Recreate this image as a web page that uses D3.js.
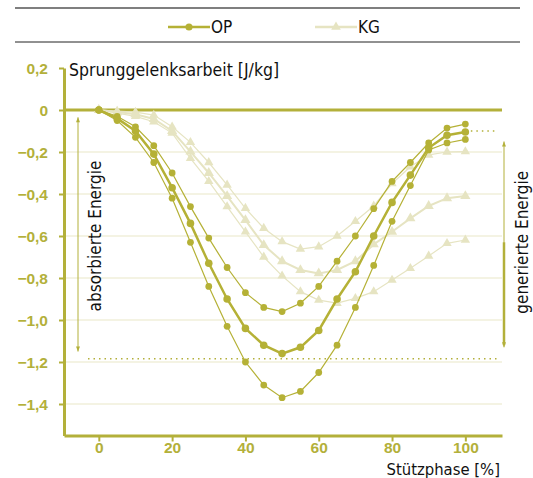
<!DOCTYPE html>
<html>
<head>
<meta charset="utf-8">
<script src="https://cdn.jsdelivr.net/npm/d3@7"></script>
<style>
  body { margin: 0; background: #fff; }
  svg { font-family: "DejaVu Sans Condensed", "DejaVu Sans", sans-serif; }
  .tick text { font-weight: bold; fill: #b3b03a; font-size: 15.5px; }
</style>
</head>
<body>
<div id="chart"></div>
<script>
//// data: Stützphase in 5 % steps
const phase = [0, 5, 10, 15, 20, 25, 30, 35, 40, 45, 50, 55, 60, 65, 70, 75, 80, 85, 90, 95, 100];

//// OP: mean and +/- SD
const opMean  = [0, -0.04, -0.10, -0.21, -0.37, -0.54, -0.73, -0.90, -1.04, -1.12, -1.16, -1.13, -1.05, -0.90, -0.77, -0.60, -0.44, -0.31, -0.18, -0.12, -0.105];
const opUpper = [0, -0.03, -0.08, -0.17, -0.30, -0.46, -0.61, -0.75, -0.87, -0.94, -0.96, -0.92, -0.84, -0.72, -0.60, -0.47, -0.34, -0.25, -0.157, -0.086, -0.067];
const opLower = [0, -0.05, -0.13, -0.25, -0.42, -0.63, -0.84, -1.03, -1.20, -1.31, -1.37, -1.34, -1.25, -1.12, -0.94, -0.74, -0.53, -0.36, -0.19, -0.157, -0.14];

//// KG: mean and +/- SD
const kgMean  = [0, -0.01, -0.02, -0.043, -0.10, -0.198, -0.30, -0.41, -0.524, -0.643, -0.72, -0.762, -0.778, -0.762, -0.72, -0.64, -0.58, -0.516, -0.457, -0.42, -0.41];
const kgUpper = [0, -0.005, -0.01, -0.024, -0.08, -0.154, -0.25, -0.357, -0.468, -0.563, -0.627, -0.662, -0.651, -0.60, -0.53, -0.457, -0.35, -0.27, -0.214, -0.20, -0.198];
const kgLower = [0, -0.015, -0.03, -0.056, -0.11, -0.23, -0.34, -0.46, -0.58, -0.70, -0.79, -0.865, -0.905, -0.92, -0.897, -0.865, -0.81, -0.754, -0.695, -0.635, -0.619];

//// ticks and annotation levels
const yTicks = [0.2, 0, -0.2, -0.4, -0.6, -0.8, -1.0, -1.2, -1.4];
const xTicks = [0, 20, 40, 60, 80, 100];
const absorbedLevel = -1.185;
const endLevel = -0.10;

const OLIVE = '#b3b03a';
const OP_COL = '#b5b136';
const KG_COL = '#e6e4c2';
const GRID = '#e9e7c8';

const W = 533, H = 478;
const svg = d3.select('#chart').append('svg').attr('width', W).attr('height', H);

const x = d3.scaleLinear().domain([-9.5, 110]).range([64, 502]);
const y = d3.scaleLinear().domain([0.2, -1.55]).range([68, 435.5]);

//// legend rules
svg.append('line').attr('x1', 15).attr('x2', 520).attr('y1', 8).attr('y2', 8)
	.attr('stroke', '#555').attr('stroke-width', 1.5);
svg.append('line').attr('x1', 15).attr('x2', 520).attr('y1', 42).attr('y2', 42)
	.attr('stroke', '#222').attr('stroke-width', 1);

//// legend entries
const legend = [
	{ name: 'OP', col: OP_COL, x0: 168, sym: d3.symbolCircle },
	{ name: 'KG', col: KG_COL, x0: 315, sym: d3.symbolTriangle }
];
legend.forEach(l => {
	svg.append('line').attr('x1', l.x0).attr('x2', l.x0 + 42).attr('y1', 27).attr('y2', 27)
		.attr('stroke', l.col).attr('stroke-width', 2.5);
	svg.append('path').attr('d', d3.symbol().type(l.sym).size(40)())
		.attr('transform', `translate(${l.x0 + 21},27)`).attr('fill', l.col);
	svg.append('text').attr('x', l.x0 + 43).attr('y', 33).text(l.name)
		.attr('font-size', 17).attr('fill', '#111');
});

//// grid
svg.append('g').selectAll('line')
	.data(yTicks.filter(v => v < 0))
	.join('line')
	.attr('x1', 64).attr('x2', 502)
	.attr('y1', d => y(d)).attr('y2', d => y(d))
	.attr('stroke', GRID).attr('stroke-width', 1.2);

//// zero line
svg.append('line').attr('x1', 64).attr('x2', 502).attr('y1', y(0)).attr('y2', y(0))
	.attr('stroke', OLIVE).attr('stroke-width', 3);

//// axes
const fmt = d => d3.format('.1f')(d).replace('.', ',');
const yAxis = svg.append('g').attr('transform', 'translate(64,0)')
	.call(d3.axisLeft(y).tickValues(yTicks).tickSize(5).tickSizeOuter(0)
		.tickFormat(d => d === 0 ? '0' : fmt(d)));
const xAxis = svg.append('g').attr('transform', `translate(0,${y.range()[1]})`)
	.call(d3.axisBottom(x).tickValues(xTicks).tickSize(6).tickSizeOuter(0));

[yAxis, xAxis].forEach(a => {
	a.select('.domain').attr('stroke', OLIVE).attr('stroke-width', 3);
	a.selectAll('.tick line').attr('stroke', OLIVE).attr('stroke-width', 2);
});
yAxis.selectAll('.tick text').attr('x', -16).attr('dy', '0.36em');
xAxis.selectAll('.tick text').attr('y', 7).attr('dy', '0.7em');

//// axis titles
svg.append('text').attr('x', 69).attr('y', 76).text('Sprunggelenksarbeit [J/kg]')
	.attr('font-size', 17.5).attr('fill', '#111');
svg.append('text').attr('x', 500).attr('y', 475).attr('text-anchor', 'end').text('Stützphase [%]')
	.attr('font-size', 16.5).attr('fill', '#111');

//// reference lines (dotted)
svg.append('line').attr('x1', 88).attr('x2', 497).attr('y1', y(absorbedLevel)).attr('y2', y(absorbedLevel))
	.attr('stroke', OLIVE).attr('stroke-width', 1.5).attr('stroke-dasharray', '1.5,4');
svg.append('line').attr('x1', x(100)).attr('x2', 498).attr('y1', y(endLevel)).attr('y2', y(endLevel))
	.attr('stroke', OLIVE).attr('stroke-width', 1.5).attr('stroke-dasharray', '1.5,4');

//// energy arrows
const arrow = (xp, y1, y2, w) => {
	svg.append('line').attr('x1', xp).attr('x2', xp).attr('y1', y1).attr('y2', y2)
		.attr('stroke', OLIVE).attr('stroke-width', w);
	svg.append('path').attr('d', `M${xp - 2},${y1 + 5}L${xp},${y1}L${xp + 2},${y1 + 5}Z`).attr('fill', OLIVE);
	svg.append('path').attr('d', `M${xp - 2},${y2 - 5}L${xp},${y2}L${xp + 2},${y2 - 5}Z`).attr('fill', OLIVE);
};
arrow(78, y(-0.035), y(-1.15), 1);
arrow(504, y(-0.15), y(-1.13), 1);
svg.append('line').attr('x1', 504).attr('x2', 504).attr('y1', y(-0.63)).attr('y2', y(-1.12))
	.attr('stroke', OLIVE).attr('stroke-width', 2.5);

svg.append('text').attr('transform', `translate(101,${y(-0.6)}) rotate(-90)`)
	.attr('text-anchor', 'middle').text('absorbierte Energie').attr('font-size', 17).attr('fill', '#111');
svg.append('text').attr('transform', `translate(528,${y(-0.63)}) rotate(-90)`)
	.attr('text-anchor', 'middle').text('generierte Energie').attr('font-size', 17).attr('fill', '#111');

//// series
const line = d3.line().x((d, i) => x(phase[i])).y(d => y(d));
const series = [
	{ vals: kgUpper, col: KG_COL, w: 1.2, sym: d3.symbolTriangle, size: 38 },
	{ vals: kgLower, col: KG_COL, w: 1.2, sym: d3.symbolTriangle, size: 38 },
	{ vals: kgMean, col: KG_COL, w: 2, sym: d3.symbolTriangle, size: 45 },
	{ vals: opUpper, col: OP_COL, w: 1.2, sym: d3.symbolCircle, size: 36 },
	{ vals: opLower, col: OP_COL, w: 1.2, sym: d3.symbolCircle, size: 36 },
	{ vals: opMean, col: OP_COL, w: 2.5, sym: d3.symbolCircle, size: 45 }
];
series.forEach(s => {
	const g = svg.append('g');
	g.append('path').attr('d', line(s.vals)).attr('fill', 'none')
		.attr('stroke', s.col).attr('stroke-width', s.w);
	g.selectAll('path.m').data(s.vals).join('path').attr('class', 'm')
		.attr('d', d3.symbol().type(s.sym).size(s.size)())
		.attr('transform', (d, i) => `translate(${x(phase[i])},${y(d)})`)
		.attr('fill', s.col);
});
</script>
</body>
</html>
